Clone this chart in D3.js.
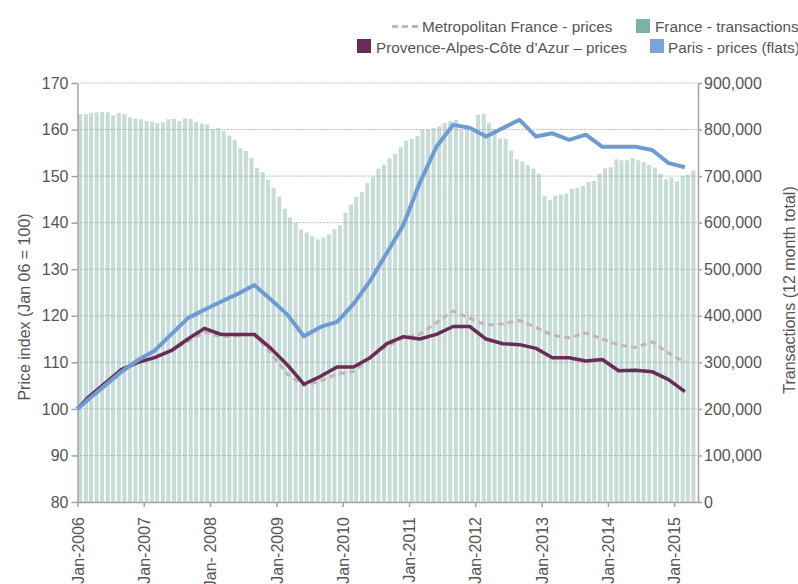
<!DOCTYPE html>
<html>
<head>
<meta charset="utf-8">
<script src="https://cdn.jsdelivr.net/npm/d3@7"></script>
<style>
  html, body { margin: 0; padding: 0; background: #fff; }
  svg { display: block; font-family: "Liberation Sans", Arial, sans-serif; }
  .axis text { fill: #555; font-size: 16px; }
  .axis path, .axis line { stroke: #a3a3a3; stroke-width: 1.5; }
  .legend text { fill: #555; font-size: 15.3px; }
</style>
</head>
<body>
<div id="chart"></div>
<script>
// monthly transactions, France, 12 month total (thousands), Jan 2006 .. Apr 2015
const transactions = [
  833, 833, 836, 837, 838, 837, 830, 836, 833, 826, 824, 822,
  818, 817, 814, 816, 822, 823, 818, 824, 823, 816, 813, 811,
  801, 803, 797, 787, 778, 760, 754, 739, 718, 709, 692, 675,
  656, 630, 611, 599, 585, 579, 571, 564, 568, 575, 586, 594,
  621, 639, 656, 666, 685, 699, 716, 725, 738, 748, 762, 776,
  780, 786, 799, 800, 803, 807, 814, 818, 821, 800, 800, 798,
  832, 834, 814, 801, 781, 780, 755, 736, 731, 724, 716, 705,
  657, 649, 658, 660, 662, 673, 675, 679, 687, 690, 705, 717,
  719, 736, 734, 734, 739, 734, 730, 724, 718, 705, 693, 697,
  689, 700, 703, 712
];
const firstMonth = "2006-01";

// quarterly price index points (Jan 06 = 100)
const quarters = [
  "2006-01", "2006-03", "2006-06", "2006-09", "2006-12",
  "2007-03", "2007-06", "2007-09", "2007-12",
  "2008-03", "2008-06", "2008-09", "2008-12",
  "2009-03", "2009-06", "2009-09", "2009-12",
  "2010-03", "2010-06", "2010-09", "2010-12",
  "2011-03", "2011-06", "2011-09", "2011-12",
  "2012-03", "2012-06", "2012-09", "2012-12",
  "2013-03", "2013-06", "2013-09", "2013-12",
  "2014-03", "2014-06", "2014-09", "2014-12",
  "2015-03"
];
const metroPrices = [
  100, 102.5, 105.3, 108.3, 110,
  111, 112.5, 114.5, 116.5,
  115.5, 115.7, 116, 112,
  107.5, 105, 106, 107.5,
  108, 111, 113.5, 115.3,
  116, 118.5, 121, 119.5,
  118, 118.3, 119, 117.5,
  115.8, 115.3, 116.3, 115,
  113.7, 113.2, 114.4, 112,
  110
];
const pacaPrices = [
  100, 102.5, 105.5, 108.5, 110,
  111, 112.5, 115, 117.3,
  116, 116, 116, 113,
  109.5, 105.3, 107, 109,
  109, 111, 114, 115.5,
  115, 116, 117.7, 117.7,
  115, 114, 113.8, 113,
  111, 111, 110.3, 110.6,
  108.2, 108.3, 108, 106.3,
  103.7
];
const parisPrices = [
  100, 102, 105, 108, 110.5,
  112.5, 116, 119.5, 121.3,
  123, 124.7, 126.6, 123.5,
  120.3, 115.6, 117.6, 118.7,
  122.5, 127.5, 133.5, 139.5,
  148.5, 156.3, 161, 160.4,
  158.5, 160.3, 162.1, 158.5,
  159.2, 157.8, 158.9, 156.3,
  156.3, 156.3, 155.6, 152.8,
  151.9
];

const yearTicks = ["2006","2007","2008","2009","2010","2011","2012","2013","2014","2015"];
const yearLabels = ["Jan-2006","Jan-2007","Jan- 2008","Jan-2009","Jan-2010","Jan-2011","Jan-2012","Jan-2013","Jan-2014","Jan-2015"];

const parseMonth = d3.timeParse("%Y-%m");

const W = 798, H = 584;
const plot = { left: 77.5, right: 698, top: 83, bottom: 502 };

const svg = d3.select("#chart").append("svg")
  .attr("width", W).attr("height", H)
  .attr("viewBox", `0 0 ${W} ${H}`);

const x = d3.scaleTime()
  .domain([parseMonth("2006-01"), new Date(2015, 4, 12)])
  .range([plot.left, plot.right]);
const yL = d3.scaleLinear().domain([80, 170]).range([plot.bottom, plot.top]);
const yR = d3.scaleLinear().domain([0, 900000]).range([plot.bottom, plot.top]);

// bars
const start = parseMonth(firstMonth);
const barData = transactions.map((v, i) => ({ date: d3.timeMonth.offset(start, i), v: v * 1000 }));
svg.append("g").selectAll("rect")
  .data(barData)
  .join("rect")
    .attr("x", d => x(d.date) + 0.8)
    .attr("width", 4)
    .attr("y", d => yR(d.v))
    .attr("height", d => plot.bottom - yR(d.v))
    .attr("fill", "#c6ddd7");

// dotted gridlines
svg.append("g").selectAll("line")
  .data(d3.range(90, 171, 10))
  .join("line")
    .attr("x1", plot.left).attr("x2", plot.right)
    .attr("y1", d => yL(d)).attr("y2", d => yL(d))
    .attr("stroke", "#8a8a8a")
    .attr("stroke-width", 1)
    .attr("stroke-dasharray", "1,2");

// axes
svg.append("g")
  .attr("class", "axis")
  .attr("transform", `translate(${plot.left},0)`)
  .call(d3.axisLeft(yL).tickValues(d3.range(80, 171, 10)).tickSize(6).tickSizeOuter(0).tickPadding(3));

svg.append("g")
  .attr("class", "axis")
  .attr("transform", `translate(${plot.right},0)`)
  .call(d3.axisRight(yR).tickValues(d3.range(0, 900001, 100000)).tickFormat(d3.format(",")).tickSize(4).tickSizeOuter(0).tickPadding(2));

const xAxis = svg.append("g")
  .attr("class", "axis")
  .attr("transform", `translate(0,${plot.bottom})`)
  .call(d3.axisBottom(x)
    .tickValues(yearTicks.map(y => parseMonth(y + "-01")))
    .tickFormat((d, i) => yearLabels[i])
    .tickSize(5).tickSizeOuter(0));
xAxis.selectAll("text")
  .attr("x", -15).attr("y", 0).attr("dy", "0.35em")
  .attr("transform", "rotate(-90)")
  .style("text-anchor", "end");

// axis titles
svg.append("text")
  .attr("transform", "translate(30,307) rotate(-90)")
  .attr("text-anchor", "middle")
  .attr("fill", "#555").attr("font-size", 16)
  .text("Price index (Jan 06 = 100)");
svg.append("text")
  .attr("transform", "translate(795,290) rotate(-90)")
  .attr("text-anchor", "middle")
  .attr("fill", "#555").attr("font-size", 16)
  .text("Transactions (12 month total)");

// lines
const qDates = quarters.map(parseMonth);
const line = d3.line()
  .x((d, i) => x(qDates[i]))
  .y(d => yL(d));

svg.append("path").datum(metroPrices)
  .attr("d", line)
  .attr("fill", "none")
  .attr("stroke", "#c3b4bc")
  .attr("stroke-width", 3)
  .attr("stroke-dasharray", "6,4");
svg.append("path").datum(pacaPrices)
  .attr("d", line)
  .attr("fill", "none")
  .attr("stroke", "#6a2c56")
  .attr("stroke-width", 3.5)
  .attr("stroke-linejoin", "round");
svg.append("path").datum(parisPrices)
  .attr("d", line)
  .attr("fill", "none")
  .attr("stroke", "#6f9bd5")
  .attr("stroke-width", 4)
  .attr("stroke-linejoin", "round");

// legend
const lg = svg.append("g").attr("class", "legend");
lg.append("line")
  .attr("x1", 392).attr("x2", 420).attr("y1", 26.5).attr("y2", 26.5)
  .attr("stroke", "#c3b4bc").attr("stroke-width", 3).attr("stroke-dasharray", "6,4");
lg.append("text").attr("x", 422).attr("y", 32).text("Metropolitan France - prices");
lg.append("rect").attr("x", 636).attr("y", 19).attr("width", 14).attr("height", 14).attr("fill", "#7bb1a6");
lg.append("text").attr("x", 655).attr("y", 32).text("France - transactions");
lg.append("rect").attr("x", 357).attr("y", 39).attr("width", 14).attr("height", 14).attr("fill", "#6a2c56");
lg.append("text").attr("x", 376).attr("y", 53).text("Provence-Alpes-Côte d’Azur – prices");
lg.append("rect").attr("x", 650).attr("y", 39).attr("width", 14).attr("height", 14).attr("fill", "#7aa3d8");
lg.append("text").attr("x", 668).attr("y", 53).text("Paris - prices (flats)");
</script>
</body>
</html>
